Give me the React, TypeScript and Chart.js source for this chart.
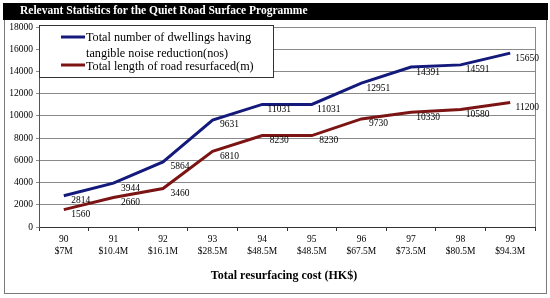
import React, { useEffect, useRef } from "react";
import { Chart, registerables } from "chart.js";

Chart.register(...registerables);

const years = ["90", "91", "92", "93", "94", "95", "96", "97", "98", "99"];
const costs = ["$7M", "$10.4M", "$16.1M", "$28.5M", "$48.5M", "$48.5M", "$67.5M", "$73.5M", "$80.5M", "$94.3M"];
const dwellings = [2814, 3944, 5864, 9631, 11031, 11031, 12951, 14391, 14591, 15650];
const roadLength = [1560, 2660, 3460, 6810, 8230, 8230, 9730, 10330, 10580, 11200];
const yTicks = [0, 2000, 4000, 6000, 8000, 10000, 12000, 14000, 16000, 18000];

const TITLE = "Relevant Statistics for the Quiet Road Surface Programme";
const X_TITLE = "Total resurfacing cost (HK$)";
const LEGEND_LINES_1 = ["Total number of dwellings having", "tangible noise reduction(nos)"];
const LEGEND_2 = "Total length of road resurfaced(m)";

const BLUE = "#141a7c";
const RED = "#7c1414";
const SERIF = "'Liberation Serif', 'Times New Roman', serif";

const decorPlugin = {
  id: "decor",
  beforeDraw(chart: any) {
    const ctx = chart.ctx;
    ctx.save();
    ctx.fillStyle = "#ffffff";
    ctx.fillRect(0, 0, chart.width, chart.height);
    // outer border
    ctx.strokeStyle = "#7a7a7a";
    ctx.lineWidth = 1;
    ctx.strokeRect(4.5, 19.5, 542, 274);
    // title bar
    ctx.fillStyle = "#000000";
    ctx.fillRect(3, 3, 545, 17);
    ctx.fillStyle = "#ffffff";
    ctx.font = "bold 11.5px " + SERIF;
    ctx.textBaseline = "middle";
    ctx.textAlign = "left";
    ctx.fillText(TITLE, 20, 11.5);
    ctx.restore();
  },
  afterDraw(chart: any) {
    const ctx = chart.ctx;
    const area = chart.chartArea;
    ctx.save();
    // right border of plot
    ctx.strokeStyle = "#8a8a8a";
    ctx.lineWidth = 1;
    ctx.beginPath();
    ctx.moveTo(Math.round(area.right) + 0.5, area.top);
    ctx.lineTo(Math.round(area.right) + 0.5, area.bottom);
    ctx.stroke();

    // data labels
    ctx.fillStyle = "#000000";
    ctx.font = "9.5px " + SERIF;
    ctx.textAlign = "center";
    ctx.textBaseline = "middle";
    chart.data.datasets.forEach((ds: any, di: number) => {
      const meta = chart.getDatasetMeta(di);
      meta.data.forEach((pt: any, i: number) => {
        ctx.fillText(String(ds.data[i]), pt.x + 17, pt.y + 5);
      });
    });

    // legend box
    const lx = 39.5, ly = 25.5, lw = 234, lh = 52;
    ctx.fillStyle = "#ffffff";
    ctx.fillRect(lx, ly, lw, lh);
    ctx.strokeStyle = "#333333";
    ctx.strokeRect(lx, ly, lw, lh);
    ctx.lineWidth = 3;
    ctx.strokeStyle = BLUE;
    ctx.beginPath();
    ctx.moveTo(61, 37);
    ctx.lineTo(85, 37);
    ctx.stroke();
    ctx.strokeStyle = RED;
    ctx.beginPath();
    ctx.moveTo(61, 65);
    ctx.lineTo(85, 65);
    ctx.stroke();
    ctx.fillStyle = "#000000";
    ctx.font = "12.2px " + SERIF;
    ctx.textAlign = "left";
    ctx.textBaseline = "middle";
    ctx.fillText(LEGEND_LINES_1[0], 86, 38);
    ctx.fillText(LEGEND_LINES_1[1], 86, 54);
    ctx.fillText(LEGEND_2, 86, 67);

    // x axis title
    ctx.font = "bold 12px " + SERIF;
    ctx.textAlign = "center";
    ctx.fillText(X_TITLE, 284, 276);
    ctx.restore();
  },
};

export default function App() {
  const ref = useRef<HTMLCanvasElement | null>(null);
  useEffect(() => {
    if (!ref.current) return;
    const labels = years.map((y, i) => [y, costs[i]]);
    const chart = new Chart(ref.current, {
      type: "line",
      data: {
        labels,
        datasets: [
          {
            label: LEGEND_LINES_1.join(" "),
            data: dwellings,
            borderColor: BLUE,
            borderWidth: 3,
            pointRadius: 0,
            tension: 0,
            fill: false,
          },
          {
            label: LEGEND_2,
            data: roadLength,
            borderColor: RED,
            borderWidth: 3,
            pointRadius: 0,
            tension: 0,
            fill: false,
          },
        ],
      },
      options: {
        animation: false,
        responsive: false,
        maintainAspectRatio: false,
        layout: { padding: { left: 0, top: 27, right: 15, bottom: 0 } },
        plugins: {
          legend: { display: false },
          tooltip: { enabled: false },
          title: { display: false },
        },
        scales: {
          x: {
            offset: true,
            grid: {
              display: true,
              drawOnChartArea: false,
              drawTicks: true,
              tickLength: 4,
              offset: true,
              color: "#333333",
            },
            border: { display: true, color: "#333333", width: 1 },
            ticks: {
              color: "#000000",
              font: { family: SERIF, size: 9.5, lineHeight: 1.25 },
              padding: 3,
              maxRotation: 0,
              autoSkip: false,
            },
            afterFit(scale: any) {
              scale.height = 71;
            },
          },
          y: {
            min: 0,
            max: 18000,
            afterBuildTicks(scale: any) {
              scale.ticks = yTicks.map((v) => ({ value: v }));
            },
            grid: {
              color: "#8a8a8a",
              drawTicks: true,
              tickLength: 3,
            },
            border: { display: true, color: "#555555", width: 1 },
            ticks: {
              color: "#000000",
              font: { family: SERIF, size: 9.5 },
              padding: 3,
              callback: (v: any) => String(v),
            },
            afterFit(scale: any) {
              scale.width = 39;
            },
          },
        },
      },
      plugins: [decorPlugin],
    });
    return () => chart.destroy();
  }, []);
  return (
    <div style={{ position: "absolute", left: 0, top: 0, width: 550, height: 298 }}>
      <canvas ref={ref} width={550} height={298} style={{ width: 550, height: 298, display: "block" }} />
    </div>
  );
}
